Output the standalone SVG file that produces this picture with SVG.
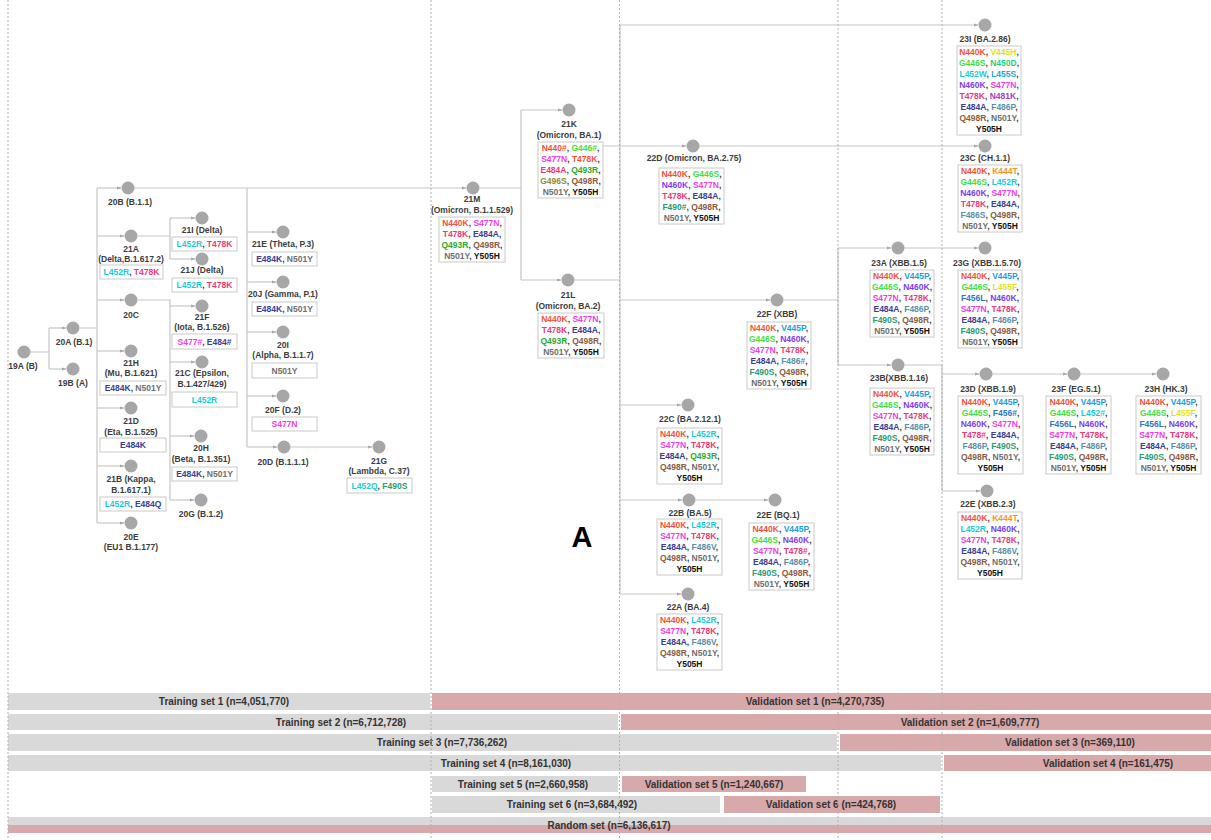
<svg xmlns="http://www.w3.org/2000/svg" width="1211" height="840" viewBox="0 0 1211 840">
<defs>
<marker id="ah" viewBox="0 0 10 10" refX="9" refY="5" markerWidth="5" markerHeight="5" markerUnits="userSpaceOnUse" orient="auto"><path d="M0,1.5 L10,5 L0,8.5 Z" fill="#a8a8a8"/></marker>
<style>
text{font-family:"Liberation Sans",Arial,Helvetica,sans-serif;font-weight:bold;text-anchor:middle}
.lb{font-size:8.5px;fill:#3c3c3c}
.m{font-size:8.5px;fill:#333}
.bt{font-size:10px;fill:#333}
.big{font-size:29px;fill:#000}
.bx{fill:#fff;stroke:#c9c9c9;stroke-width:1}
.nd{fill:#a7a7a7}
.cn{fill:none;stroke:#c6c6c6;stroke-width:1.2}
.ar{marker-end:url(#ah)}
.dt{stroke:#b0b0b0;stroke-width:1;stroke-dasharray:2 2}
.bg{fill:#d9d9d9}.bp{fill:#d8a9aa}
.k440{fill:#f4513b}.k444{fill:#f7941d}.k445p{fill:#1e9de2}.k445h{fill:#e3df1b}
.k446{fill:#43e043}.k450{fill:#1fcf86}.k452{fill:#1ccbd8}.k455s{fill:#1fa7d4}
.k455f{fill:#e3e32a}.k456{fill:#2d77c7}.k460{fill:#7d3df0}.k477{fill:#ef3de6}
.k478{fill:#ec3a76}.k481{fill:#a23ec4}.k484{fill:#3b3d96}.k486{fill:#5b8fa9}
.k490{fill:#2b9b72}.k493{fill:#2cab2c}.k496{fill:#8c8b33}.k498{fill:#8d5b42}
.k501{fill:#6e6e6e}.k505{fill:#111}
</style>
</defs>
<rect width="1211" height="840" fill="#fff"/>

<g id="bars">
<rect class="bg" x="8" y="693" width="422" height="17"/><rect class="bp" x="432" y="693" width="779" height="17"/>
<rect class="bg" x="8" y="714" width="610" height="16"/><rect class="bp" x="621" y="714" width="590" height="16"/>
<rect class="bg" x="8" y="734" width="829" height="17"/><rect class="bp" x="840" y="734" width="371" height="17"/>
<rect class="bg" x="8" y="755" width="933" height="16"/><rect class="bp" x="944" y="755" width="267" height="16"/>
<rect class="bg" x="432" y="776" width="186" height="16"/><rect class="bp" x="622" y="776" width="184" height="16"/>
<rect class="bg" x="432" y="796" width="288" height="17"/><rect class="bp" x="724" y="796" width="216" height="17"/>
<rect class="bg" x="8" y="817" width="1203" height="8"/><rect class="bp" x="8" y="825" width="1203" height="8"/>
<text class="bt" x="224" y="705">Training set 1 (n=4,051,770)</text>
<text class="bt" x="815" y="705">Validation set 1 (n=4,270,735)</text>
<text class="bt" x="341" y="725.5">Training set 2 (n=6,712,728)</text>
<text class="bt" x="970" y="725.5">Validation set 2 (n=1,609,777)</text>
<text class="bt" x="442" y="746">Training set 3 (n=7,736,262)</text>
<text class="bt" x="1070" y="746">Validation set 3 (n=369,110)</text>
<text class="bt" x="506" y="766.5">Training set 4 (n=8,161,030)</text>
<text class="bt" x="1108" y="766.5">Validation set 4 (n=161,475)</text>
<text class="bt" x="523" y="787.5">Training set 5 (n=2,660,958)</text>
<text class="bt" x="714" y="787.5">Validation set 5 (n=1,240,667)</text>
<text class="bt" x="572" y="808">Training set 6 (n=3,684,492)</text>
<text class="bt" x="831" y="808">Validation set 6 (n=424,768)</text>
<text class="bt" x="609" y="828.5">Random set (n=6,136,617)</text>
</g>

<g id="connectors">
<path class="cn" d="M30,352 H49 M49,328 V369 M80,328 H97 M97,188 V523 M138,236 H170 M170,218 V259 M138,300 H170 V500 M247,188 V447 M479.5,188 H521 M521,110 V280 M575,280 H620 M620,25 V594 M783.5,300 H838 M838,248 V365 M904.5,365 H942 V491"/>
<path class="cn ar" d="M49,328 H66"/><path class="cn ar" d="M49,369 H66"/>
<path class="cn ar" d="M97,188 H121"/><path class="cn ar" d="M97,236 H124"/><path class="cn ar" d="M97,300 H124"/><path class="cn ar" d="M97,351 H124"/><path class="cn ar" d="M97,408 H124"/><path class="cn ar" d="M97,466 H124"/><path class="cn ar" d="M97,523 H124"/>
<path class="cn ar" d="M170,218 H195"/><path class="cn ar" d="M170,259 H195"/>
<path class="cn ar" d="M170,306 H195"/><path class="cn ar" d="M170,362 H195"/><path class="cn ar" d="M170,436 H194"/><path class="cn ar" d="M170,500 H194"/>
<path class="cn ar" d="M134.5,188 H466"/>
<path class="cn ar" d="M247,232 H276"/><path class="cn ar" d="M247,282 H276"/><path class="cn ar" d="M247,332 H276"/><path class="cn ar" d="M247,396 H276"/><path class="cn ar" d="M247,447 H277"/>
<path class="cn ar" d="M290.5,447 H372"/>
<path class="cn ar" d="M521,110 H562"/><path class="cn ar" d="M521,280 H561"/>
<path class="cn ar" d="M603,146 H686"/>
<path class="cn ar" d="M620,25 H978"/><path class="cn ar" d="M620,300 H770"/><path class="cn ar" d="M620,405 H681"/><path class="cn ar" d="M620,500 H682"/><path class="cn ar" d="M620,594 H681"/>
<path class="cn ar" d="M699.5,146 H978"/>
<path class="cn ar" d="M838,248 H891"/><path class="cn ar" d="M838,365 H891"/>
<path class="cn ar" d="M904.5,248 H978"/>
<path class="cn ar" d="M942,374 H979"/><path class="cn ar" d="M942,491 H980"/>
<path class="cn ar" d="M992.5,374 H1067"/><path class="cn ar" d="M1080.5,374 H1156"/>
<path class="cn ar" d="M695.5,500 H768"/>
</g>

<g id="n19A"><circle class="nd" cx="24" cy="352" r="6.5"/><text class="lb" x="23" y="369">19A (B)</text></g>
<g id="n20A"><circle class="nd" cx="73" cy="328" r="6.5"/><text class="lb" x="74" y="345">20A (B.1)</text></g>
<g id="n19B"><circle class="nd" cx="73" cy="369" r="6.5"/><text class="lb" x="73" y="386">19B (A)</text></g>
<g id="n20B"><circle class="nd" cx="128" cy="188" r="6.5"/><text class="lb" x="130" y="205">20B (B.1.1)</text></g>
<g id="n21A"><circle class="nd" cx="131" cy="236" r="6.5"/><text class="lb" x="131" y="252">21A</text><text class="lb" x="131" y="262">(Delta,B.1.617.2)</text>
<rect class="bx" x="100" y="265" width="63" height="14"/><text class="m" x="131.5" y="275"><tspan class="k452">L452R</tspan>, <tspan class="k478">T478K</tspan></text></g>
<g id="n20C"><circle class="nd" cx="131" cy="300" r="6.5"/><text class="lb" x="131" y="318">20C</text></g>
<g id="n21H"><circle class="nd" cx="131" cy="351" r="6.5"/><text class="lb" x="131" y="366">21H</text><text class="lb" x="131" y="376">(Mu, B.1.621)</text>
<rect class="bx" x="100" y="381" width="66" height="14"/><text class="m" x="133" y="391"><tspan class="k484">E484K</tspan>, <tspan class="k501">N501Y</tspan></text></g>
<g id="n21D"><circle class="nd" cx="131" cy="408" r="6.5"/><text class="lb" x="131" y="424">21D</text><text class="lb" x="131" y="435">(Eta, B.1.525)</text>
<rect class="bx" x="100" y="438" width="66" height="14"/><text class="m" x="133" y="448"><tspan class="k484">E484K</tspan></text></g>
<g id="n21B"><circle class="nd" cx="131" cy="466" r="6.5"/><text class="lb" x="131" y="482">21B (Kappa,</text><text class="lb" x="131" y="493">B.1.617.1)</text>
<rect class="bx" x="100" y="497" width="66" height="14"/><text class="m" x="133" y="507"><tspan class="k452">L452R</tspan>, <tspan class="k484">E484Q</tspan></text></g>
<g id="n20E"><circle class="nd" cx="131" cy="523" r="6.5"/><text class="lb" x="131" y="540">20E</text><text class="lb" x="131" y="550">(EU1 B.1.177)</text></g>
<g id="n21I"><circle class="nd" cx="202" cy="218" r="6.5"/><text class="lb" x="202" y="233">21I (Delta)</text>
<rect class="bx" x="172" y="237" width="65" height="14"/><text class="m" x="204.5" y="247"><tspan class="k452">L452R</tspan>, <tspan class="k478">T478K</tspan></text></g>
<g id="n21J"><circle class="nd" cx="202" cy="259" r="6.5"/><text class="lb" x="202" y="273">21J (Delta)</text>
<rect class="bx" x="172" y="278" width="65" height="14"/><text class="m" x="204.5" y="288"><tspan class="k452">L452R</tspan>, <tspan class="k478">T478K</tspan></text></g>
<g id="n21F"><circle class="nd" cx="202" cy="306" r="6.5"/><text class="lb" x="202" y="320">21F</text><text class="lb" x="202" y="330">(Iota, B.1.526)</text>
<rect class="bx" x="172" y="334" width="65" height="15"/><text class="m" x="204.5" y="344.5"><tspan class="k477">S477#</tspan>, <tspan class="k484">E484#</tspan></text></g>
<g id="n21C"><circle class="nd" cx="202" cy="362" r="6.5"/><text class="lb" x="202" y="376">21C (Epsilon,</text><text class="lb" x="202" y="387">B.1.427/429)</text>
<rect class="bx" x="172" y="392" width="65" height="15"/><text class="m" x="204.5" y="403"><tspan class="k452">L452R</tspan></text></g>
<g id="n20H"><circle class="nd" cx="201" cy="436" r="6.5"/><text class="lb" x="201" y="451">20H</text><text class="lb" x="201" y="462">(Beta, B.1.351)</text>
<rect class="bx" x="172" y="467" width="65" height="14"/><text class="m" x="204.5" y="477"><tspan class="k484">E484K</tspan>, <tspan class="k501">N501Y</tspan></text></g>
<g id="n20G"><circle class="nd" cx="201" cy="500" r="6.5"/><text class="lb" x="201" y="517">20G (B.1.2)</text></g>
<g id="n21E"><circle class="nd" cx="283" cy="232" r="6.5"/><text class="lb" x="283" y="247">21E (Theta, P.3)</text>
<rect class="bx" x="252" y="252" width="65" height="14"/><text class="m" x="284.5" y="262"><tspan class="k484">E484K</tspan>, <tspan class="k501">N501Y</tspan></text></g>
<g id="n20J"><circle class="nd" cx="283" cy="282" r="6.5"/><text class="lb" x="283" y="297">20J (Gamma, P.1)</text>
<rect class="bx" x="252" y="302" width="65" height="14"/><text class="m" x="284.5" y="312"><tspan class="k484">E484K</tspan>, <tspan class="k501">N501Y</tspan></text></g>
<g id="n20I"><circle class="nd" cx="283" cy="332" r="6.5"/><text class="lb" x="283" y="348">20I</text><text class="lb" x="283" y="358">(Alpha, B.1.1.7)</text>
<rect class="bx" x="252" y="363" width="65" height="15"/><text class="m" x="284.5" y="373.5"><tspan class="k501">N501Y</tspan></text></g>
<g id="n20F"><circle class="nd" cx="283" cy="396" r="6.5"/><text class="lb" x="283" y="413">20F (D.2)</text>
<rect class="bx" x="252" y="417" width="65" height="14"/><text class="m" x="284.5" y="427"><tspan class="k477">S477N</tspan></text></g>
<g id="n20D"><circle class="nd" cx="284" cy="447" r="6.5"/><text class="lb" x="283" y="465">20D (B.1.1.1)</text></g>
<g id="n21G"><circle class="nd" cx="379" cy="447" r="6.5"/><text class="lb" x="379" y="464">21G</text><text class="lb" x="379" y="474">(Lambda, C.37)</text>
<rect class="bx" x="347" y="478" width="65" height="15"/><text class="m" x="379.5" y="488.5"><tspan class="k452">L452Q</tspan>, <tspan class="k490">F490S</tspan></text></g>

<g id="n21M"><circle class="nd" cx="473" cy="188" r="6.5"/><text class="lb" x="472" y="202">21M</text><text class="lb" x="472" y="213">(Omicron, B.1.1.529)</text>
<rect class="bx" x="439" y="217" width="66" height="45"/>
<text class="m" x="472" y="226"><tspan class="k440">N440K</tspan>, <tspan class="k477">S477N</tspan>,</text>
<text class="m" x="472" y="237"><tspan class="k478">T478K</tspan>, <tspan class="k484">E484A</tspan>,</text>
<text class="m" x="472" y="248"><tspan class="k493">Q493R</tspan>, <tspan class="k498">Q498R</tspan>,</text>
<text class="m" x="472" y="259"><tspan class="k501">N501Y</tspan>, <tspan class="k505">Y505H</tspan></text></g>

<g id="n21K"><circle class="nd" cx="569" cy="110" r="6.5"/><text class="lb" x="569" y="127">21K</text><text class="lb" x="569" y="138">(Omicron, BA.1)</text>
<rect class="bx" x="538" y="142" width="65" height="56"/>
<text class="m" x="570.5" y="151"><tspan class="k440">N440#</tspan>, <tspan class="k446">G446#</tspan>,</text>
<text class="m" x="570.5" y="162"><tspan class="k477">S477N</tspan>, <tspan class="k440">T478K</tspan>,</text>
<text class="m" x="570.5" y="173"><tspan class="k478">E484A</tspan>, <tspan class="k493">Q493R</tspan>,</text>
<text class="m" x="570.5" y="184"><tspan class="k496">G496S</tspan>, <tspan class="k498">Q498R</tspan>,</text>
<text class="m" x="570.5" y="195"><tspan class="k501">N501Y</tspan>, <tspan class="k505">Y505H</tspan></text></g>

<g id="n21L"><circle class="nd" cx="568" cy="280" r="6.5"/><text class="lb" x="568" y="298">21L</text><text class="lb" x="568" y="309">(Omicron, BA.2)</text>
<rect class="bx" x="538" y="313" width="66" height="45"/>
<text class="m" x="571" y="322"><tspan class="k440">N440K</tspan>, <tspan class="k477">S477N</tspan>,</text>
<text class="m" x="571" y="333"><tspan class="k478">T478K</tspan>, <tspan class="k484">E484A</tspan>,</text>
<text class="m" x="571" y="344"><tspan class="k493">Q493R</tspan>, <tspan class="k498">Q498R</tspan>,</text>
<text class="m" x="571" y="355"><tspan class="k501">N501Y</tspan>, <tspan class="k505">Y505H</tspan></text></g>

<g id="n22D"><circle class="nd" cx="693" cy="146" r="6.5"/><text class="lb" x="694" y="161">22D (Omicron, BA.2.75)</text>
<rect class="bx" x="659" y="168" width="65" height="56"/>
<text class="m" x="691.5" y="177"><tspan class="k440">N440K</tspan>, <tspan class="k446">G446S</tspan>,</text>
<text class="m" x="691.5" y="188"><tspan class="k460">N460K</tspan>, <tspan class="k477">S477N</tspan>,</text>
<text class="m" x="691.5" y="199"><tspan class="k478">T478K</tspan>, <tspan class="k484">E484A</tspan>,</text>
<text class="m" x="691.5" y="210"><tspan class="k490">F490#</tspan>, <tspan class="k498">Q498R</tspan>,</text>
<text class="m" x="691.5" y="221"><tspan class="k501">N501Y</tspan>, <tspan class="k505">Y505H</tspan></text></g>

<g id="n22F"><circle class="nd" cx="777" cy="300" r="6.5"/><text class="lb" x="777" y="317">22F (XBB)</text>
<rect class="bx" x="747" y="322" width="64" height="67"/>
<text class="m" x="779" y="331"><tspan class="k440">N440K</tspan>, <tspan class="k445p">V445P</tspan>,</text>
<text class="m" x="779" y="342"><tspan class="k446">G446S</tspan>, <tspan class="k460">N460K</tspan>,</text>
<text class="m" x="779" y="353"><tspan class="k477">S477N</tspan>, <tspan class="k478">T478K</tspan>,</text>
<text class="m" x="779" y="364"><tspan class="k484">E484A</tspan>, <tspan class="k486">F486#</tspan>,</text>
<text class="m" x="779" y="375"><tspan class="k490">F490S</tspan>, <tspan class="k498">Q498R</tspan>,</text>
<text class="m" x="779" y="386"><tspan class="k501">N501Y</tspan>, <tspan class="k505">Y505H</tspan></text></g>

<g id="n22C"><circle class="nd" cx="688" cy="405" r="6.5"/><text class="lb" x="690" y="422">22C (BA.2.12.1)</text>
<rect class="bx" x="657" y="428" width="65" height="56"/>
<text class="m" x="689.5" y="437"><tspan class="k440">N440K</tspan>, <tspan class="k452">L452R</tspan>,</text>
<text class="m" x="689.5" y="448"><tspan class="k477">S477N</tspan>, <tspan class="k478">T478K</tspan>,</text>
<text class="m" x="689.5" y="459"><tspan class="k484">E484A</tspan>, <tspan class="k493">Q493R</tspan>,</text>
<text class="m" x="689.5" y="470"><tspan class="k498">Q498R</tspan>, <tspan class="k501">N501Y</tspan>,</text>
<text class="m" x="689.5" y="481"><tspan class="k505">Y505H</tspan></text></g>

<g id="n22B"><circle class="nd" cx="689" cy="500" r="6.5"/><text class="lb" x="690" y="516">22B (BA.5)</text>
<rect class="bx" x="657" y="519" width="65" height="56"/>
<text class="m" x="689.5" y="528"><tspan class="k440">N440K</tspan>, <tspan class="k452">L452R</tspan>,</text>
<text class="m" x="689.5" y="539"><tspan class="k477">S477N</tspan>, <tspan class="k478">T478K</tspan>,</text>
<text class="m" x="689.5" y="550"><tspan class="k484">E484A</tspan>, <tspan class="k486">F486V</tspan>,</text>
<text class="m" x="689.5" y="561"><tspan class="k498">Q498R</tspan>, <tspan class="k501">N501Y</tspan>,</text>
<text class="m" x="689.5" y="572"><tspan class="k505">Y505H</tspan></text></g>

<g id="n22E-BQ1"><circle class="nd" cx="775" cy="500" r="6.5"/><text class="lb" x="778" y="518">22E (BQ.1)</text>
<rect class="bx" x="749" y="523" width="65" height="67"/>
<text class="m" x="781.5" y="532"><tspan class="k440">N440K</tspan>, <tspan class="k445p">V445P</tspan>,</text>
<text class="m" x="781.5" y="543"><tspan class="k446">G446S</tspan>, <tspan class="k460">N460K</tspan>,</text>
<text class="m" x="781.5" y="554"><tspan class="k477">S477N</tspan>, <tspan class="k478">T478#</tspan>,</text>
<text class="m" x="781.5" y="565"><tspan class="k484">E484A</tspan>, <tspan class="k486">F486P</tspan>,</text>
<text class="m" x="781.5" y="576"><tspan class="k490">F490S</tspan>, <tspan class="k498">Q498R</tspan>,</text>
<text class="m" x="781.5" y="587"><tspan class="k501">N501Y</tspan>, <tspan class="k505">Y505H</tspan></text></g>

<g id="n22A"><circle class="nd" cx="688" cy="594" r="6.5"/><text class="lb" x="688" y="610">22A (BA.4)</text>
<rect class="bx" x="657" y="614" width="65" height="56"/>
<text class="m" x="689.5" y="623"><tspan class="k440">N440K</tspan>, <tspan class="k452">L452R</tspan>,</text>
<text class="m" x="689.5" y="634"><tspan class="k477">S477N</tspan>, <tspan class="k478">T478K</tspan>,</text>
<text class="m" x="689.5" y="645"><tspan class="k484">E484A</tspan>, <tspan class="k486">F486V</tspan>,</text>
<text class="m" x="689.5" y="656"><tspan class="k498">Q498R</tspan>, <tspan class="k501">N501Y</tspan>,</text>
<text class="m" x="689.5" y="667"><tspan class="k505">Y505H</tspan></text></g>

<g id="n23I"><circle class="nd" cx="985" cy="25" r="6.5"/><text class="lb" x="985" y="42">23I (BA.2.86)</text>
<rect class="bx" x="957" y="46" width="64" height="89"/>
<text class="m" x="989" y="55"><tspan class="k440">N440K</tspan>, <tspan class="k445h">V445H</tspan>,</text>
<text class="m" x="989" y="66"><tspan class="k446">G446S</tspan>, <tspan class="k450">N450D</tspan>,</text>
<text class="m" x="989" y="77"><tspan class="k452">L452W</tspan>, <tspan class="k455s">L455S</tspan>,</text>
<text class="m" x="989" y="88"><tspan class="k460">N460K</tspan>, <tspan class="k477">S477N</tspan>,</text>
<text class="m" x="989" y="99"><tspan class="k478">T478K</tspan>, <tspan class="k481">N481K</tspan>,</text>
<text class="m" x="989" y="110"><tspan class="k484">E484A</tspan>, <tspan class="k486">F486P</tspan>,</text>
<text class="m" x="989" y="121"><tspan class="k498">Q498R</tspan>, <tspan class="k501">N501Y</tspan>,</text>
<text class="m" x="989" y="132"><tspan class="k505">Y505H</tspan></text></g>

<g id="n23C"><circle class="nd" cx="985" cy="146" r="6.5"/><text class="lb" x="985" y="161">23C (CH.1.1)</text>
<rect class="bx" x="958" y="165" width="64" height="67"/>
<text class="m" x="990" y="174"><tspan class="k440">N440K</tspan>, <tspan class="k444">K444T</tspan>,</text>
<text class="m" x="990" y="185"><tspan class="k446">G446S</tspan>, <tspan class="k452">L452R</tspan>,</text>
<text class="m" x="990" y="196"><tspan class="k460">N460K</tspan>, <tspan class="k477">S477N</tspan>,</text>
<text class="m" x="990" y="207"><tspan class="k478">T478K</tspan>, <tspan class="k484">E484A</tspan>,</text>
<text class="m" x="990" y="218"><tspan class="k486">F486S</tspan>, <tspan class="k498">Q498R</tspan>,</text>
<text class="m" x="990" y="229"><tspan class="k501">N501Y</tspan>, <tspan class="k505">Y505H</tspan></text></g>

<g id="n23A"><circle class="nd" cx="898" cy="248" r="6.5"/><text class="lb" x="899" y="266">23A (XBB.1.5)</text>
<rect class="bx" x="870" y="270" width="64" height="67"/>
<text class="m" x="902" y="279"><tspan class="k440">N440K</tspan>, <tspan class="k445p">V445P</tspan>,</text>
<text class="m" x="902" y="290"><tspan class="k446">G446S</tspan>, <tspan class="k460">N460K</tspan>,</text>
<text class="m" x="902" y="301"><tspan class="k477">S477N</tspan>, <tspan class="k478">T478K</tspan>,</text>
<text class="m" x="902" y="312"><tspan class="k484">E484A</tspan>, <tspan class="k486">F486P</tspan>,</text>
<text class="m" x="902" y="323"><tspan class="k490">F490S</tspan>, <tspan class="k498">Q498R</tspan>,</text>
<text class="m" x="902" y="334"><tspan class="k501">N501Y</tspan>, <tspan class="k505">Y505H</tspan></text></g>

<g id="n23G"><circle class="nd" cx="985" cy="248" r="6.5"/><text class="lb" x="987" y="266">23G (XBB.1.5.70)</text>
<rect class="bx" x="958" y="270" width="64" height="78"/>
<text class="m" x="990" y="279"><tspan class="k440">N440K</tspan>, <tspan class="k445p">V445P</tspan>,</text>
<text class="m" x="990" y="290"><tspan class="k446">G446S</tspan>, <tspan class="k455f">L455F</tspan>,</text>
<text class="m" x="990" y="301"><tspan class="k456">F456L</tspan>, <tspan class="k460">N460K</tspan>,</text>
<text class="m" x="990" y="312"><tspan class="k477">S477N</tspan>, <tspan class="k478">T478K</tspan>,</text>
<text class="m" x="990" y="323"><tspan class="k484">E484A</tspan>, <tspan class="k486">F486P</tspan>,</text>
<text class="m" x="990" y="334"><tspan class="k490">F490S</tspan>, <tspan class="k498">Q498R</tspan>,</text>
<text class="m" x="990" y="345"><tspan class="k501">N501Y</tspan>, <tspan class="k505">Y505H</tspan></text></g>

<g id="n23B"><circle class="nd" cx="898" cy="365" r="6.5"/><text class="lb" x="899" y="381">23B(XBB.1.16)</text>
<rect class="bx" x="870" y="388" width="64" height="67"/>
<text class="m" x="902" y="397"><tspan class="k440">N440K</tspan>, <tspan class="k445p">V445P</tspan>,</text>
<text class="m" x="902" y="408"><tspan class="k446">G446S</tspan>, <tspan class="k460">N460K</tspan>,</text>
<text class="m" x="902" y="419"><tspan class="k477">S477N</tspan>, <tspan class="k478">T478K</tspan>,</text>
<text class="m" x="902" y="430"><tspan class="k484">E484A</tspan>, <tspan class="k486">F486P</tspan>,</text>
<text class="m" x="902" y="441"><tspan class="k490">F490S</tspan>, <tspan class="k498">Q498R</tspan>,</text>
<text class="m" x="902" y="452"><tspan class="k501">N501Y</tspan>, <tspan class="k505">Y505H</tspan></text></g>

<g id="n23D"><circle class="nd" cx="986" cy="374" r="6.5"/><text class="lb" x="988" y="392">23D (XBB.1.9)</text>
<rect class="bx" x="958" y="396" width="65" height="78"/>
<text class="m" x="990.5" y="405"><tspan class="k440">N440K</tspan>, <tspan class="k445p">V445P</tspan>,</text>
<text class="m" x="990.5" y="416"><tspan class="k446">G446S</tspan>, <tspan class="k456">F456#</tspan>,</text>
<text class="m" x="990.5" y="427"><tspan class="k460">N460K</tspan>, <tspan class="k477">S477N</tspan>,</text>
<text class="m" x="990.5" y="438"><tspan class="k478">T478#</tspan>, <tspan class="k484">E484A</tspan>,</text>
<text class="m" x="990.5" y="449"><tspan class="k486">F486P</tspan>, <tspan class="k490">F490S</tspan>,</text>
<text class="m" x="990.5" y="460"><tspan class="k498">Q498R</tspan>, <tspan class="k501">N501Y</tspan>,</text>
<text class="m" x="990.5" y="471"><tspan class="k505">Y505H</tspan></text></g>

<g id="n23F"><circle class="nd" cx="1074" cy="374" r="6.5"/><text class="lb" x="1076" y="392">23F (EG.5.1)</text>
<rect class="bx" x="1046" y="396" width="65" height="78"/>
<text class="m" x="1078.5" y="405"><tspan class="k440">N440K</tspan>, <tspan class="k445p">V445P</tspan>,</text>
<text class="m" x="1078.5" y="416"><tspan class="k446">G446S</tspan>, <tspan class="k452">L452#</tspan>,</text>
<text class="m" x="1078.5" y="427"><tspan class="k456">F456L</tspan>, <tspan class="k460">N460K</tspan>,</text>
<text class="m" x="1078.5" y="438"><tspan class="k477">S477N</tspan>, <tspan class="k478">T478K</tspan>,</text>
<text class="m" x="1078.5" y="449"><tspan class="k484">E484A</tspan>, <tspan class="k486">F486P</tspan>,</text>
<text class="m" x="1078.5" y="460"><tspan class="k490">F490S</tspan>, <tspan class="k498">Q498R</tspan>,</text>
<text class="m" x="1078.5" y="471"><tspan class="k501">N501Y</tspan>, <tspan class="k505">Y505H</tspan></text></g>

<g id="n23H"><circle class="nd" cx="1163" cy="374" r="6.5"/><text class="lb" x="1166" y="392">23H (HK.3)</text>
<rect class="bx" x="1136" y="396" width="65" height="78"/>
<text class="m" x="1168.5" y="405"><tspan class="k440">N440K</tspan>, <tspan class="k445p">V445P</tspan>,</text>
<text class="m" x="1168.5" y="416"><tspan class="k446">G446S</tspan>, <tspan class="k455f">L455F</tspan>,</text>
<text class="m" x="1168.5" y="427"><tspan class="k456">F456L</tspan>, <tspan class="k460">N460K</tspan>,</text>
<text class="m" x="1168.5" y="438"><tspan class="k477">S477N</tspan>, <tspan class="k478">T478K</tspan>,</text>
<text class="m" x="1168.5" y="449"><tspan class="k484">E484A</tspan>, <tspan class="k486">F486P</tspan>,</text>
<text class="m" x="1168.5" y="460"><tspan class="k490">F490S</tspan>, <tspan class="k498">Q498R</tspan>,</text>
<text class="m" x="1168.5" y="471"><tspan class="k501">N501Y</tspan>, <tspan class="k505">Y505H</tspan></text></g>

<g id="n22E-XBB23"><circle class="nd" cx="987" cy="491" r="6.5"/><text class="lb" x="988" y="507">22E (XBB.2.3)</text>
<rect class="bx" x="958" y="512" width="64" height="67"/>
<text class="m" x="990" y="521"><tspan class="k440">N440K</tspan>, <tspan class="k444">K444T</tspan>,</text>
<text class="m" x="990" y="532"><tspan class="k452">L452R</tspan>, <tspan class="k460">N460K</tspan>,</text>
<text class="m" x="990" y="543"><tspan class="k477">S477N</tspan>, <tspan class="k478">T478K</tspan>,</text>
<text class="m" x="990" y="554"><tspan class="k484">E484A</tspan>, <tspan class="k486">F486V</tspan>,</text>
<text class="m" x="990" y="565"><tspan class="k498">Q498R</tspan>, <tspan class="k501">N501Y</tspan>,</text>
<text class="m" x="990" y="576"><tspan class="k505">Y505H</tspan></text></g>

<text class="big" x="582" y="547">A</text>

<g id="grid">
<line class="dt" x1="8" y1="0" x2="8" y2="840"/>
<line class="dt" x1="431" y1="0" x2="431" y2="840"/>
<line class="dt" x1="619.5" y1="0" x2="619.5" y2="840"/>
<line class="dt" x1="838" y1="0" x2="838" y2="840"/>
<line class="dt" x1="942" y1="0" x2="942" y2="840"/>
</g>
</svg>
